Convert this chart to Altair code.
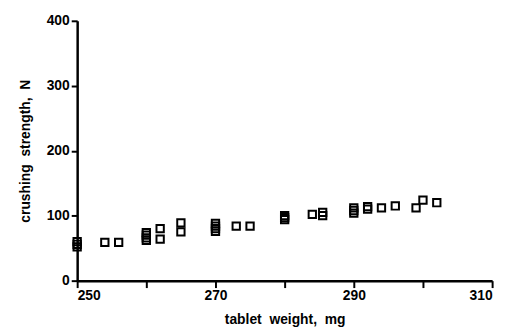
import altair as alt
import pandas as pd

weight = [250, 250, 250, 254, 256, 260, 260, 260, 260, 262, 262, 265, 265,
          270, 270, 270, 270, 273, 275, 280, 280, 280, 284, 285.5, 285.5,
          290, 290, 290, 292, 292, 294, 296, 299, 300, 302]
strength = [52, 56, 60, 59, 59, 62, 66, 70, 74, 64, 80, 75, 89,
            76, 80, 84, 88, 84, 84, 94, 97, 100, 102, 100, 105,
            104, 108, 112, 110, 114, 112, 115, 112, 124, 120]

df = pd.DataFrame({"weight": weight, "strength": strength})

font = "Liberation Sans"

chart = alt.Chart(df).mark_square(
    filled=False, size=55, stroke="black", strokeWidth=2, opacity=1
).encode(
    x=alt.X("weight:Q", scale=alt.Scale(domain=[250, 310], nice=False, zero=False),
            axis=alt.Axis(title="tablet\u00a0 weight,\u00a0 mg", values=[250, 260, 270, 280, 290, 300, 310],
                          labelExpr="datum.value % 20 == 10 ? datum.label : ''",
                          grid=False, tickSize=7, tickWidth=2, domainWidth=2.5,
                          domainColor="black", tickColor="black",
                          labelFont=font, labelFontWeight="bold", labelFontSize=14,
                          labelColor="black", labelPadding=1,
                          titleFont=font, titleFontWeight="bold", titleFontSize=14,
                          titleColor="black", titlePadding=10)),
    y=alt.Y("strength:Q", scale=alt.Scale(domain=[0, 400], nice=False),
            axis=alt.Axis(title="crushing\u00a0 strength,\u00a0 N", values=[0, 100, 200, 300, 400],
                          grid=False, tickSize=6, tickWidth=2, domainWidth=2.5,
                          domainColor="black", tickColor="black",
                          labelFont=font, labelFontWeight="bold", labelFontSize=14,
                          labelColor="black", labelPadding=2,
                          titleFont=font, titleFontWeight="bold", titleFontSize=14,
                          titleColor="black", titlePadding=14))
).properties(
    width=420, height=263,
    autosize=alt.AutoSizeParams(type="none"),
    padding={"left": 70, "top": 11, "right": 10, "bottom": 50}
).configure_view(stroke=None)

chart.save("out.html", embed_options={"renderer": "svg", "actions": False})
